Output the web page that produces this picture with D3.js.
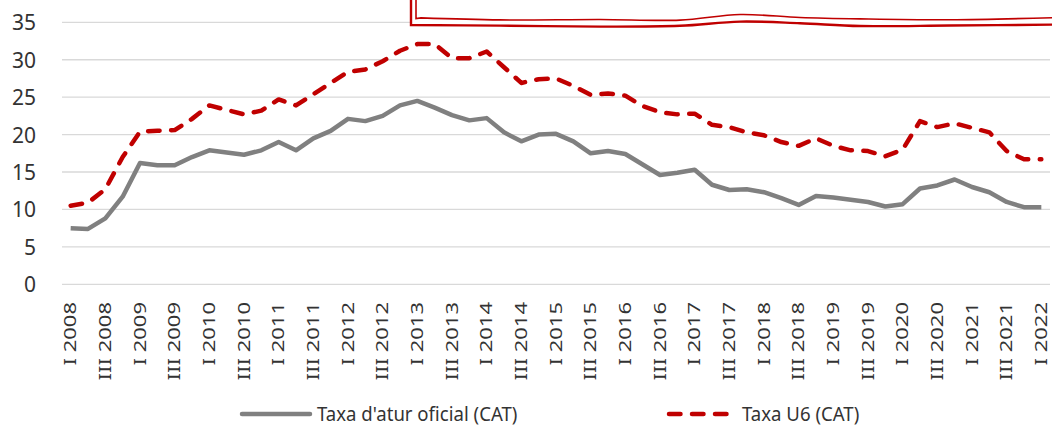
<!DOCTYPE html>
<html><head><meta charset="utf-8">
<script src="https://cdn.jsdelivr.net/npm/d3@7"></script>
<style>
html,body{margin:0;padding:0;background:#fff;}
svg{display:block;font-family:"Noto Sans","Open Sans",sans-serif;}
</style></head>
<body>
<svg id="chart" width="1052" height="426"></svg>
<script>
// ---- data ----
const years = [2008,2009,2010,2011,2012,2013,2014,2015,2016,2017,2018,2019,2020,2021,2022];
const quarters = ["I","II","III","IV"];
const seriesNames = ["Taxa d'atur oficial (CAT)", "Taxa U6 (CAT)"];
const taxaOficial = [7.5,7.4,8.8,11.7,16.2,15.9,15.9,17.0,17.9,17.6,17.3,17.9,19.0,17.9,19.5,20.5,22.1,21.8,22.5,23.9,24.5,23.6,22.6,21.9,22.2,20.3,19.1,20.0,20.1,19.1,17.5,17.8,17.4,16.0,14.6,14.9,15.3,13.3,12.6,12.7,12.3,11.5,10.6,11.8,11.6,11.3,11.0,10.4,10.7,12.8,13.2,14.0,13.0,12.3,11.0,10.3,10.3];
const taxaU6 = [10.5,10.9,12.7,17.0,20.4,20.5,20.6,22.1,23.9,23.3,22.7,23.2,24.7,23.9,25.4,26.9,28.4,28.7,29.8,31.2,32.1,32.1,30.2,30.2,31.1,29.0,26.9,27.4,27.5,26.5,25.3,25.5,25.2,23.8,23.0,22.7,22.8,21.3,21.0,20.3,19.9,19.0,18.5,19.5,18.5,17.9,17.8,17.1,18.0,21.8,21.0,21.5,20.9,20.3,17.8,16.7,16.7];
const yTicks = [0,5,10,15,20,25,30,35];

// categories: I 2008 ... I 2022
const categories = [];
years.forEach(y => quarters.forEach(q => categories.push(q + " " + y)));
categories.length = taxaOficial.length;
const tickLabels = categories.filter((c, i) => i % 2 === 0);

// ---- layout ----
const svg = d3.select("#chart");
const x = d3.scalePoint().domain(categories).range([62, 1050]).padding(0.5);
const y = d3.scaleLinear().domain([0, 35]).range([284.3, 22.3]);

// gridlines
svg.append("g").selectAll("line").data(yTicks).join("line")
  .attr("x1", 62).attr("x2", 1050)
  .attr("y1", d => y(d)).attr("y2", d => y(d))
  .attr("stroke", "#d9d9d9").attr("stroke-width", 1.3);

// y labels
svg.append("g").selectAll("text").data(yTicks).join("text")
  .attr("x", 36).attr("y", d => y(d))
  .attr("text-anchor", "end").attr("dominant-baseline", "central")
  .attr("font-size", 21).attr("fill", "#333")
  .text(d => d);

// x labels
svg.append("g").selectAll("text").data(tickLabels).join("text")
  .attr("transform", d => `translate(${x(d)},302) rotate(-90) scale(1.42,1)`)
  .attr("text-anchor", "end").attr("dominant-baseline", "central")
  .attr("font-size", 15.5).attr("fill", "#333")
  .text(d => d);

// lines
const line = d3.line().x((d, i) => x(categories[i])).y(d => y(d));
svg.append("path").datum(taxaOficial).attr("d", line)
  .attr("fill", "none").attr("stroke", "#808080").attr("stroke-width", 4.5)
  .attr("stroke-linejoin", "round");
svg.append("path").datum(taxaU6).attr("d", line)
  .attr("fill", "none").attr("stroke", "#c00000").attr("stroke-width", 4.5)
  .attr("stroke-dasharray", "11.5,11.5").attr("stroke-linecap", "round")
  .attr("stroke-linejoin", "round");

// title box (cropped at top)
const waveOuter = [[411,25],[500,25.6],[600,26.6],[680,25.8],[740,21.6],[800,23.2],[860,26],[950,25.5],[1060,24.6]];
const wv = d3.line().curve(d3.curveCatmullRom);
const box = svg.append("g");
box.append("path")
  .attr("d", `M411,-5 L411,25 ` + wv(waveOuter).replace(/^M[^C]*/, "") + ` L1060,-5 Z`)
  .attr("fill", "#fff");
box.append("path").attr("d", "M411,-5L411,25" + wv(waveOuter).replace(/^M/, "L"))
  .attr("fill", "none").attr("stroke", "#c00000").attr("stroke-width", 2.4);
const waveInner = waveOuter.map(([px, py], i) => [Math.max(px, 416) + (i === 0 ? 5 : 0), py - 6.5 + (i % 2 ? 0.8 : -0.6)]);
box.append("path").attr("d", "M416,-5L416,18.5" + wv(waveInner).replace(/^M/, "L"))
  .attr("fill", "none").attr("stroke", "#c00000").attr("stroke-width", 1.6);

// legend
const lg = svg.append("g");
lg.append("line").attr("x1", 242).attr("x2", 310).attr("y1", 414).attr("y2", 414)
  .attr("stroke", "#808080").attr("stroke-width", 4.5).attr("stroke-linecap", "round");
lg.append("text").attr("transform", "translate(317,421) scale(1,1.12)")
  .attr("font-size", 18.6).attr("fill", "#333")
  .text(seriesNames[0]);
lg.append("line").attr("x1", 669).attr("x2", 727.5).attr("y1", 414).attr("y2", 414)
  .attr("stroke", "#c00000").attr("stroke-width", 4.5).attr("stroke-linecap", "round")
  .attr("stroke-dasharray", "11.5,11.5");
lg.append("text").attr("transform", "translate(742,421) scale(1,1.12)")
  .attr("font-size", 18.6).attr("fill", "#333")
  .text(seriesNames[1]);
</script>
</body></html>
